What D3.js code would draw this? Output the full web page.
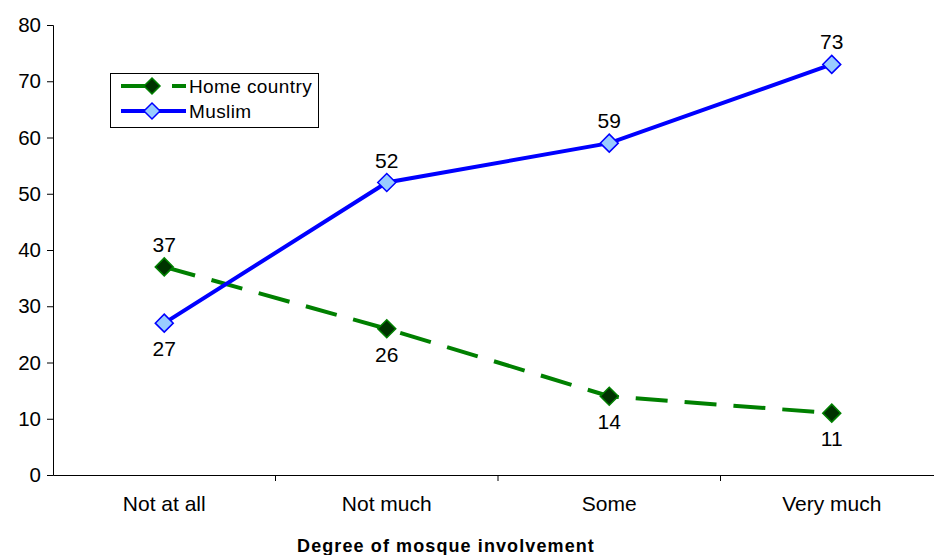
<!DOCTYPE html>
<html>
<head>
<meta charset="utf-8">
<script src="https://cdn.jsdelivr.net/npm/d3@7/dist/d3.min.js"></script>
<style>
  html, body { margin: 0; padding: 0; background: #fff; }
  svg { display: block; font-family: "Liberation Sans", Arial, sans-serif; }
</style>
</head>
<body>
<svg id="chart" width="934" height="555"></svg>
<script>
// Share of respondents, by degree of mosque involvement
const categories = ["Not at all", "Not much", "Some", "Very much"];
const homeCountry = [37, 26, 14, 11];
const muslim = [27, 52, 59, 73];
const yTicks = [0, 10, 20, 30, 40, 50, 60, 70, 80];
const seriesNames = ["Home country", "Muslim"];
// label placement per point: true = above the marker
const homeAbove = [true, false, false, false];
const muslimAbove = [false, true, true, true];

const svg = d3.select("#chart");

const x = d3.scaleBand().domain(categories).range([53, 943]).padding(0);
const y = d3.scaleLinear().domain([0, 80]).range([475, 25]);
const cx = c => x(c) + x.bandwidth() / 2;

// Y axis
const yAxis = svg.append("g")
  .attr("transform", `translate(${x.range()[0]},0)`)
  .call(d3.axisLeft(y).tickValues(yTicks).tickSize(6).tickPadding(6).tickFormat(d3.format("d")));
yAxis.select(".domain").attr("stroke", "#000").attr("stroke-width", 1);
yAxis.selectAll(".tick line").attr("stroke", "#000");
yAxis.selectAll(".tick text")
  .attr("font-size", 20.5).attr("fill", "#000")
  .attr("font-family", "'Liberation Sans', Arial, sans-serif");

// X axis: line, category labels, separators between categories
const xAxis = svg.append("g")
  .attr("transform", `translate(0,${y(0)})`)
  .call(d3.axisBottom(x).tickSize(0).tickPadding(21));
xAxis.select(".domain").attr("stroke", "#000").attr("stroke-width", 1);
xAxis.selectAll(".tick text")
  .attr("font-size", 21).attr("fill", "#000")
  .attr("font-family", "'Liberation Sans', Arial, sans-serif");
svg.append("g").selectAll("line")
  .data(categories.slice(1))
  .join("line")
  .attr("x1", d => x(d)).attr("x2", d => x(d))
  .attr("y1", y(0)).attr("y2", y(0) + 6)
  .attr("stroke", "#000");

// Axis title
svg.append("text")
  .attr("x", 446).attr("y", 552)
  .attr("text-anchor", "middle")
  .attr("font-size", 18).attr("font-weight", "bold")
  .attr("letter-spacing", 1.1)
  .text("Degree of mosque involvement");

const line = d3.line().x(d => cx(d.c)).y(d => y(d.v));
const diamond = r => `M0,${-r}L${r},0L0,${r}L${-r},0Z`;

const series = [
  { name: seriesNames[0], values: homeCountry, above: homeAbove,
    stroke: "#008000", dash: "32,17", fill: "#003300", mstroke: "#008000" },
  { name: seriesNames[1], values: muslim, above: muslimAbove,
    stroke: "#0000ff", dash: null, fill: "#99ccff", mstroke: "#0000ff" }
];

series.forEach(s => {
  const pts = categories.map((c, i) => ({ c, v: s.values[i], above: s.above[i] }));
  svg.append("path")
    .datum(pts)
    .attr("d", line)
    .attr("fill", "none")
    .attr("stroke", s.stroke)
    .attr("stroke-width", 4)
    .attr("stroke-dasharray", s.dash);
  svg.append("g").selectAll("path")
    .data(pts)
    .join("path")
    .attr("transform", d => `translate(${cx(d.c)},${y(d.v)})`)
    .attr("d", diamond(9))
    .attr("fill", s.fill)
    .attr("stroke", s.mstroke)
    .attr("stroke-width", 1.5);
  svg.append("g").selectAll("text")
    .data(pts)
    .join("text")
    .attr("x", d => cx(d.c))
    .attr("y", d => y(d.v) + (d.above ? -15 : 33))
    .attr("text-anchor", "middle")
    .attr("font-size", 21)
    .attr("fill", "#000")
    .text(d => d.v);
});

// Legend
const lg = svg.append("g");
lg.append("rect")
  .attr("x", 110.5).attr("y", 73.5).attr("width", 208).attr("height", 54)
  .attr("fill", "#fff").attr("stroke", "#000").attr("stroke-width", 1);
series.forEach((s, i) => {
  const ry = 86 + i * 25;
  lg.append("line")
    .attr("x1", 121).attr("x2", 186).attr("y1", ry).attr("y2", ry)
    .attr("stroke", s.stroke).attr("stroke-width", 4)
    .attr("stroke-dasharray", s.dash ? "38,13" : null);
  lg.append("path")
    .attr("transform", `translate(152,${ry})`)
    .attr("d", diamond(8))
    .attr("fill", s.fill).attr("stroke", s.mstroke).attr("stroke-width", 1.5);
  lg.append("text")
    .attr("x", 189).attr("y", ry + 6.5)
    .attr("font-size", 19).attr("letter-spacing", 0.4).attr("fill", "#000")
    .text(s.name);
});
</script>
</body>
</html>
